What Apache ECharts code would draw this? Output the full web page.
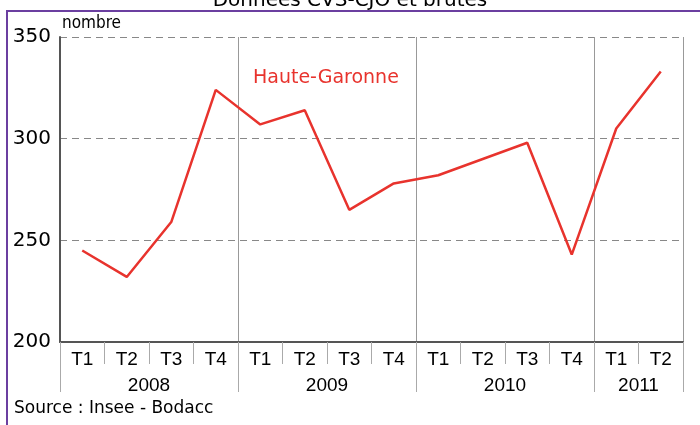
<!DOCTYPE html>
<html>
<head>
<meta charset="utf-8">
<script src="https://cdn.jsdelivr.net/npm/echarts@6/dist/echarts.min.js"></script>
<style>
  html, body { margin: 0; padding: 0; background: #fff; }
  #chart { width: 700px; height: 425px; }
</style>
</head>
<body>
<div id="chart"></div>
<script>
// trimestres 2008 T1 -> 2011 T2
const quarters = ['T1','T2','T3','T4','T1','T2','T3','T4','T1','T2','T3','T4','T1','T2'];
const years = { 2: '2008', 6: '2009', 10: '2010', 13: '2011' };
const hauteGaronne = [245, 232, 259, 324, 307, 314, 265, 278, 282, 290, 298, 243, 305, 333];
const yTicks = { min: 200, max: 350, step: 50 };

const chart = echarts.init(document.getElementById('chart'));

const option = {
  animation: false,
  backgroundColor: '#fff',
  title: [
    {
      text: 'Données CVS-CJO et brutes',
      left: 'center',
      top: -14,
      textStyle: { fontFamily: 'DejaVu Sans', fontSize: 20, fontWeight: 'normal', color: '#000' }
    },
    {
      text: 'Source : Insee - Bodacc',
      left: 9,
      top: 395,
      textStyle: { fontFamily: 'DejaVu Sans', fontSize: 17, fontWeight: 'normal', color: '#000' }
    }
  ],
  legend: {
    left: 248,
    top: 69,
    padding: 0,
    icon: 'none',
    itemWidth: 0,
    itemGap: 0,
    textStyle: { fontFamily: 'DejaVu Sans', fontSize: 19, color: '#e8332d' },
    data: ['Haute-Garonne']
  },
  graphic: [{
    type: 'rect',
    silent: true,
    shape: { x: 7, y: 11, width: 760, height: 480 },
    style: { fill: 'none', stroke: '#6b3fa0', lineWidth: 2 }
  }],
  grid: { left: 60, right: 17, top: 37, bottom: 83, outerBoundsMode: 'none', containLabel: false },
  xAxis: [
    {
      type: 'category',
      position: 'bottom',
      data: quarters,
      boundaryGap: true,
      axisLine: { lineStyle: { color: '#555', width: 2 } },
      axisTick: { show: true, length: 22, lineStyle: { color: '#aaa' } },
      axisLabel: { fontFamily: 'Liberation Sans', fontSize: 19, color: '#000', margin: 8, interval: 0 },
      splitLine: {
        show: true,
        interval: (i) => i > 0 && i % 4 === 0,
        lineStyle: { color: '#999', width: 1 }
      }
    },
    {
      type: 'category',
      position: 'bottom',
      data: quarters,
      boundaryGap: true,
      axisLine: { show: false },
      axisTick: { show: true, length: 50, interval: (i) => i % 4 === 0, lineStyle: { color: '#aaa' } },
      axisLabel: { show: false },
      splitLine: { show: false }
    },
    {
      type: 'value',
      position: 'bottom',
      min: 0,
      max: quarters.length,
      interval: 1,
      axisLine: { show: false },
      axisTick: { show: false },
      splitLine: { show: false },
      axisLabel: {
        fontFamily: 'Liberation Sans', fontSize: 19, color: '#000', margin: 34,
        formatter: (v) => years[v] || ''
      }
    }
  ],
  yAxis: {
    type: 'value',
    min: yTicks.min,
    max: yTicks.max,
    interval: yTicks.step,
    name: 'nombre',
    nameLocation: 'end',
    nameGap: 5,
    nameTextStyle: { fontFamily: 'DejaVu Sans Condensed', fontSize: 17, color: '#000', align: 'left', padding: [0, 0, 0, 2] },
    axisLine: { show: true, lineStyle: { color: '#555', width: 2 } },
    axisTick: { show: false },
    axisLabel: { fontFamily: 'DejaVu Sans', fontSize: 20, color: '#000', margin: 9 },
    splitLine: { show: true, lineStyle: { color: '#888', type: [7, 5], width: 1 } }
  },
  series: [{
    name: 'Haute-Garonne',
    type: 'line',
    xAxisIndex: 0,
    data: hauteGaronne,
    symbol: 'none',
    lineStyle: { color: '#e8332d', width: 2.5 },
    itemStyle: { color: '#e8332d' }
  }]
};

chart.setOption(option);
</script>
</body>
</html>
